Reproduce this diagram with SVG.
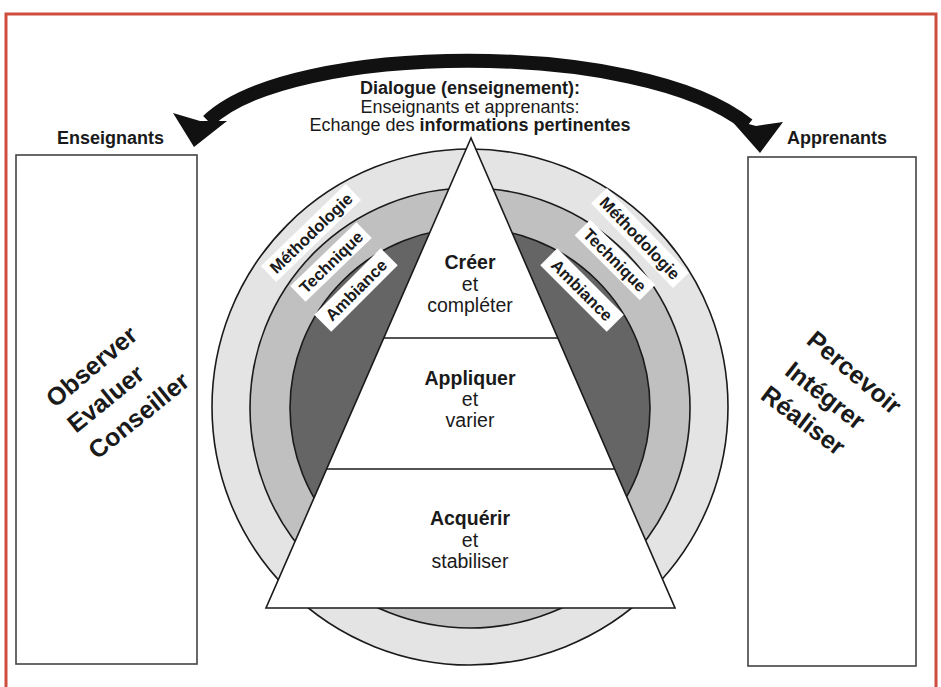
<svg xmlns="http://www.w3.org/2000/svg" width="941" height="687" viewBox="0 0 941 687">
<style>
text{font-family:"Liberation Sans",Arial,sans-serif;fill:#1a1a1a}
.b{font-weight:bold}
.hd{font-size:18px;text-anchor:middle}
.py{font-size:19.5px;text-anchor:middle}
.rg{font-size:16.5px;font-weight:bold;text-anchor:middle}
.bx{font-size:25px;font-weight:bold;text-anchor:middle}
.lbl{fill:#fff;stroke:none}
.ring{stroke:#1a1a1a;stroke-width:1.6}
</style>
<rect x="0" y="0" width="941" height="687" fill="#fff"/>
<rect x="6" y="14" width="930" height="690" fill="none" stroke="#cf4d3c" stroke-width="3"/>

<g id="circles">
<circle class="ring" cx="470" cy="407" r="258" fill="#e4e4e4"/>
<circle class="ring" cx="470" cy="408" r="220" fill="#c0c0c0"/>
<circle class="ring" cx="470" cy="408" r="180" fill="#656565"/>
</g>

<g id="ring-labels">
<g transform="translate(311,233) rotate(-44)"><rect class="lbl" x="-59" y="-11" width="118" height="22"/><text class="rg" y="6">Méthodologie</text></g>
<g transform="translate(331,262) rotate(-44)"><rect class="lbl" x="-46" y="-11" width="92" height="22"/><text class="rg" y="6">Technique</text></g>
<g transform="translate(356,290) rotate(-45)"><rect class="lbl" x="-47" y="-12" width="94" height="24"/><text class="rg" y="6">Ambiance</text></g>
<g transform="translate(640,238) rotate(46)"><rect class="lbl" x="-59" y="-11" width="118" height="22"/><text class="rg" y="6">Méthodologie</text></g>
<g transform="translate(615,260) rotate(45)"><rect class="lbl" x="-46" y="-11" width="92" height="22"/><text class="rg" y="6">Technique</text></g>
<g transform="translate(582,290) rotate(45)"><rect class="lbl" x="-47" y="-12" width="94" height="24"/><text class="rg" y="6">Ambiance</text></g>
</g>

<g id="pyramid">
<polygon points="471,138 266,608 675,608" fill="#fff" stroke="#1a1a1a" stroke-width="1.6"/>
<line x1="384" y1="338" x2="558" y2="338" stroke="#1a1a1a" stroke-width="1.6"/>
<line x1="327" y1="469" x2="615" y2="469" stroke="#1a1a1a" stroke-width="1.6"/>
</g>

<g id="level-creer">
<text class="py b" x="470" y="269">Créer</text>
<text class="py" x="470" y="291">et</text>
<text class="py" x="470" y="312">compléter</text>
</g>
<g id="level-appliquer">
<text class="py b" x="470" y="385">Appliquer</text>
<text class="py" x="470" y="406">et</text>
<text class="py" x="470" y="427">varier</text>
</g>
<g id="level-acquerir">
<text class="py b" x="470" y="525">Acquérir</text>
<text class="py" x="470" y="547">et</text>
<text class="py" x="470" y="568">stabiliser</text>
</g>

<g id="enseignants">
<text class="b" x="57" y="144" font-size="18">Enseignants</text>
<rect x="16" y="155" width="181" height="509" fill="#fff" stroke="#444" stroke-width="1.6"/>
<text class="bx" transform="translate(92,367) rotate(-40)" y="8">Observer</text>
<text class="bx" transform="translate(106,399) rotate(-39)" y="8">Evaluer</text>
<text class="bx" transform="translate(139,416) rotate(-39)" y="8">Conseiller</text>
</g>

<g id="apprenants">
<text class="b" x="787" y="144" font-size="18">Apprenants</text>
<rect x="748" y="157" width="168" height="509" fill="#fff" stroke="#444" stroke-width="1.6"/>
<text class="bx" transform="translate(854,373) rotate(40)" y="8">Percevoir</text>
<text class="bx" transform="translate(825,396) rotate(38)" y="8">Intégrer</text>
<text class="bx" transform="translate(803,421) rotate(37)" y="8">Réaliser</text>
</g>

<g id="dialogue">
<text class="hd b" x="470" y="94">Dialogue (enseignement):</text>
<text class="hd" x="470" y="112.5">Enseignants et apprenants:</text>
<text class="hd" x="470" y="131">Echange des <tspan class="b">informations pertinentes</tspan></text>
</g>

<g id="connectors">
<path d="M208,121 C290,42 640,38 748,125" fill="none" stroke="#111" stroke-width="14"/>
<polygon points="173,113 200,121 227,121 194,147" fill="#111"/>
<polygon points="730,119 756,126 783,122 760,153" fill="#111"/>
</g>
</svg>
